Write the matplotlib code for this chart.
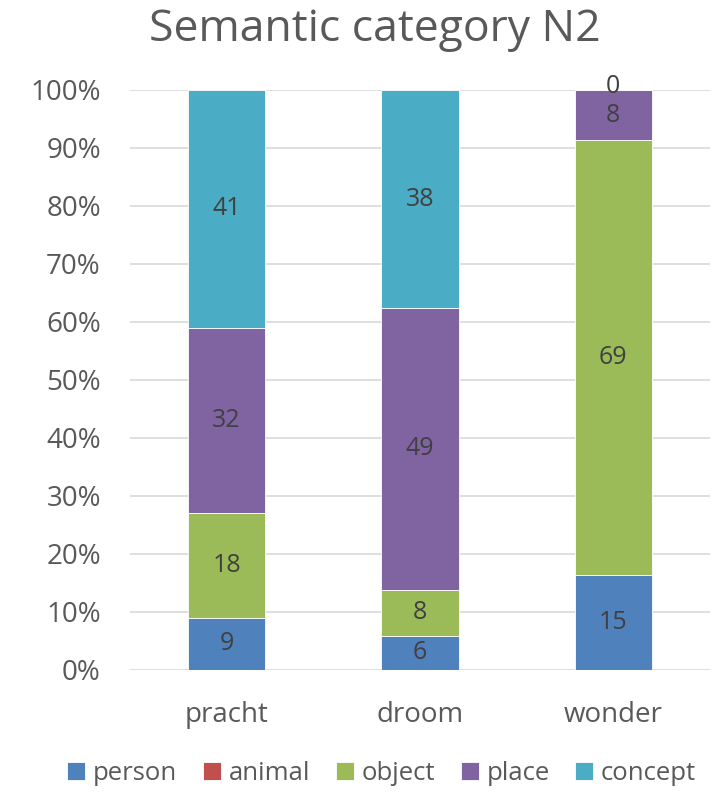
import matplotlib
matplotlib.use("Agg")
import matplotlib.pyplot as plt
import numpy as np

categories = ["pracht", "droom", "wonder"]
series_names = ["person", "animal", "object", "place", "concept"]
person = [9, 6, 15]
animal = [0, 0, 0]
obj = [18, 8, 69]
place = [32, 49, 8]
concept = [41, 38, 0]
colors = ["#4F81BD", "#C0504D", "#9BBB59", "#8064A2", "#4BACC6"]
show_label = [True, False, True, True, True]

plt.rcParams['font.family'] = ['Open Sans', 'DejaVu Sans']
txt = "#595959"

fig = plt.figure(figsize=(7.2, 7.92), dpi=100)
ax = fig.add_axes([130/720, 1 - 670/792, 580/720, 580/792])

data = np.array([person, animal, obj, place, concept], dtype=float)
totals = data.sum(axis=0)
frac = data / totals
x = np.arange(len(categories))
bottom = np.zeros(len(categories))
for i, name in enumerate(series_names):
    ax.bar(x, frac[i], 0.4, bottom=bottom, color=colors[i], label=name,
           edgecolor="white", linewidth=0.6, zorder=3)
    if show_label[i]:
        for j in range(len(categories)):
            if data[i, j] > 0 or i == len(series_names) - 1:
                yc = bottom[j] + frac[i, j] / 2
                if data[i, j] == 0:
                    yc += 0.006
                ax.text(x[j], yc, f"{int(data[i, j])}", ha="center", va="center",
                        fontsize=18, color="#404040", zorder=4)
    bottom += frac[i]

ax.set_xlim(-0.5, 2.5)
ax.set_ylim(0, 1)
ax.set_yticks(np.arange(0, 1.01, 0.1))
ax.set_yticklabels([f"{int(round(v*100))}%" for v in np.arange(0, 1.01, 0.1)])
ax.set_xticks(x)
ax.set_xticklabels(categories)
ax.tick_params(axis="both", length=0, labelsize=20, colors=txt)
ax.tick_params(axis="y", pad=21)
ax.tick_params(axis="x", pad=22)
ax.yaxis.grid(True, color="#D9D9D9", linewidth=1.2, zorder=0)
for s in ax.spines.values():
    s.set_visible(False)

fig.text(0.52, 1 - 30/792, "Semantic category N2", ha="center", va="center",
         fontsize=32, color=txt)

leg = fig.legend(loc="center", bbox_to_anchor=(0.53, 1 - 773/792), ncol=5,
                 frameon=False, fontsize=18.5, handlelength=0.7, handleheight=0.7,
                 handletextpad=0.3, columnspacing=1.0)
for t in leg.get_texts():
    t.set_color(txt)

fig.savefig("out.png", dpi=100)
